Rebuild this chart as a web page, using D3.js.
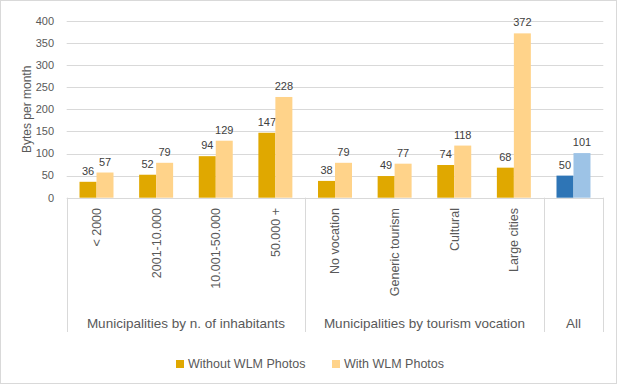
<!DOCTYPE html>
<html>
<head>
<meta charset="utf-8">
<script src="https://cdn.jsdelivr.net/npm/d3@7"></script>
<style>
  body { margin: 0; background: #fff; }
  svg { display: block; font-family: "Liberation Sans", Arial, sans-serif; }
</style>
</head>
<body>
<div id="chart"></div>
<script>
// Chart data
var categories = ["< 2000", "2001-10.000", "10.001-50.000", "50.000 +",
    "No vocation", "Generic tourism", "Cultural", "Large cities", ""];
var groups = ["Municipalities by n. of inhabitants", "Municipalities by tourism vocation", "All"];
var groupSizes = [4, 4, 1];
var withoutWLM = [36, 52, 94, 147, 38, 49, 74, 68, 50];
var withWLM = [57, 79, 129, 228, 79, 77, 118, 372, 101];
var seriesNames = ["Without WLM Photos", "With WLM Photos"];
var yTicks = [0, 50, 100, 150, 200, 250, 300, 350, 400];

var W = 619, H = 386;
var plotL = 66.7, plotR = 603.3, plotT = 21, plotB = 197.7;
var textColor = "#595959", gridColor = "#d9d9d9";

// last category ("All") gets the blue colours
function colorFor(s, i) {
    if (i == categories.length - 1) return s == 0 ? "#2e75b6" : "#9dc3e6";
    return s == 0 ? "#e0a800" : "#ffd38a";
}

const svg = d3.select("#chart").append("svg")
    .attr("width", W).attr("height", H);

svg.append("rect")
    .attr("x", 0.5).attr("y", 0.5)
    .attr("width", W - 3).attr("height", H - 3)
    .attr("fill", "#fff").attr("stroke", "#d9d9d9");

const x0 = d3.scaleBand().domain(d3.range(categories.length))
    .range([plotL, plotR]).paddingInner(0.43).paddingOuter(0.215);
const x1 = d3.scaleBand().domain([0, 1]).range([0, x0.bandwidth()]);
const y = d3.scaleLinear().domain([0, 400]).range([plotB, plotT]);
const step = (plotR - plotL) / categories.length;

// gridlines + y labels
svg.append("g").selectAll("line").data(yTicks.slice(1)).join("line")
    .attr("x1", plotL).attr("x2", plotR)
    .attr("y1", d => Math.round(y(d)) + 0.5).attr("y2", d => Math.round(y(d)) + 0.5)
    .attr("stroke", gridColor);
svg.append("g").selectAll("text").data(yTicks).join("text")
    .attr("x", 54).attr("y", d => y(d)).attr("dy", "0.35em")
    .attr("text-anchor", "end").attr("fill", textColor)
    .style("font-size", "11px").text(d => d);

svg.append("text")
    .attr("transform", "translate(31," + ((plotT + plotB) / 2) + ") rotate(-90)")
    .attr("text-anchor", "middle").attr("fill", textColor)
    .style("font-size", "12px").text("Bytes per month");

// bars
var series = [withoutWLM, withWLM];
series.forEach(function (vals, s) {
    var g = svg.append("g");
    g.selectAll("rect").data(vals).join("rect")
        .attr("x", (d, i) => x0(i) + x1(s))
        .attr("width", x1.bandwidth())
        .attr("y", d => y(d))
        .attr("height", d => y(0) - y(d))
        .attr("fill", (d, i) => colorFor(s, i));
    g.selectAll("text").data(vals).join("text")
        .attr("x", (d, i) => x0(i) + x1(s) + x1.bandwidth() / 2)
        .attr("y", d => y(d) - 7)
        .attr("text-anchor", "middle").attr("fill", "#404040")
        .style("font-size", "11px").text(d => d);
});

// category axis
svg.append("line")
    .attr("x1", plotL).attr("x2", plotR)
    .attr("y1", Math.round(plotB) + 0.5).attr("y2", Math.round(plotB) + 0.5)
    .attr("stroke", gridColor);

var bounds = [0];
groupSizes.forEach(n => bounds.push(bounds[bounds.length - 1] + n));
svg.append("g").selectAll("line").data(bounds).join("line")
    .attr("x1", d => Math.round(plotL + d * step) + 0.5)
    .attr("x2", d => Math.round(plotL + d * step) + 0.5)
    .attr("y1", plotB).attr("y2", 332)
    .attr("stroke", gridColor);

svg.append("g").selectAll("text").data(categories).join("text")
    .attr("transform", (d, i) => "translate(" + (x0(i) + x0.bandwidth() / 2) + ",208) rotate(-90)")
    .attr("dy", "0.35em").attr("text-anchor", "end")
    .attr("fill", textColor).style("font-size", "12.5px").text(d => d);

svg.append("g").selectAll("text").data(groups).join("text")
    .attr("x", (d, i) => plotL + (bounds[i] + bounds[i + 1]) / 2 * step)
    .attr("y", 328)
    .attr("text-anchor", "middle").attr("fill", textColor)
    .style("font-size", "13.5px").text(d => d);

// legend
var legendX = [176, 332];
var leg = svg.append("g").selectAll("g").data(seriesNames).join("g")
    .attr("transform", (d, i) => "translate(" + legendX[i] + ",364)");
leg.append("rect").attr("x", 0).attr("y", -4).attr("width", 8).attr("height", 8)
    .attr("fill", (d, i) => colorFor(i, 0));
leg.append("text").attr("x", 12).attr("dy", "0.35em")
    .attr("fill", textColor).style("font-size", "12.5px").text(d => d);
</script>
</body>
</html>
